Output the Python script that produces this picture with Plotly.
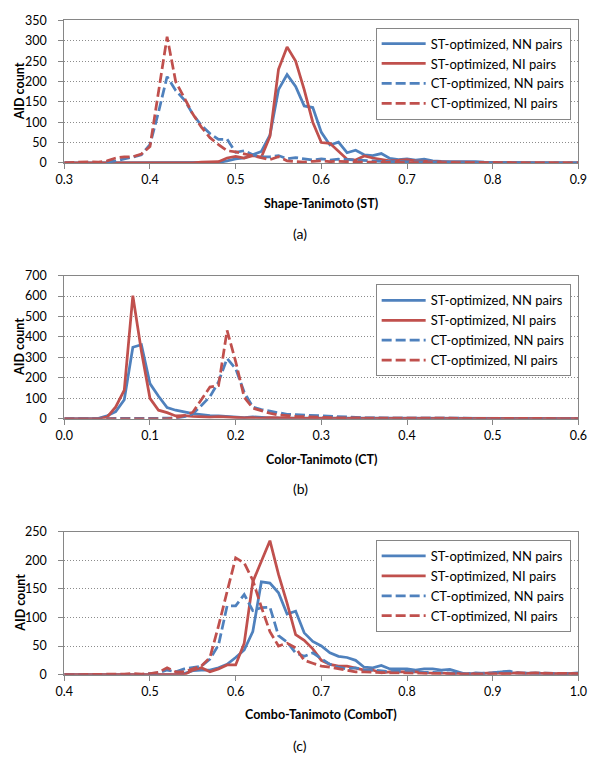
import plotly.graph_objects as go

# ---------------- data ----------------
# bin centres (step 0.01) for each panel
bins_a = [round(0.30 + 0.01 * i, 2) for i in range(61)]
bins_b = [round(0.00 + 0.01 * i, 2) for i in range(61)]
bins_c = [round(0.40 + 0.01 * i, 2) for i in range(61)]

series_names = ["ST-optimized, NN pairs", "ST-optimized, NI pairs",
                "CT-optimized, NN pairs", "CT-optimized, NI pairs"]

# Panel (a): Shape-Tanimoto
a_st_nn = [0]*18 + [1, 5, 10, 12, 20, 28, 68, 180, 217, 188, 140, 136, 75, 44, 51, 25, 31, 20, 18, 23,
                    11, 8, 10, 7, 9, 5, 4, 4, 3, 3, 3, 2, 1] + [1, 1, 0, 0, 0, 0, 0, 0, 0, 0]
a_st_ni = [0]*16 + [2, 2, 3, 12, 16, 12, 18, 14, 65, 230, 285, 250, 180, 100, 50, 48, 28, 9, 7, 17,
                    12, 8, 5, 6, 8, 5, 4, 3, 2, 2, 2, 1, 1, 1, 1] + [0]*10
a_ct_nn = [0, 0, 0, 0, 0, 2] + [5, 10, 14, 20, 45, 125, 212, 178, 155, 120, 92, 72, 58, 58, 26, 30, 20, 15,
                                15, 18, 10, 13, 10, 7, 10, 7, 9, 8, 6, 6, 4, 4, 3, 3, 3, 2, 2, 2, 2, 1] + \
          [1, 1, 1, 1, 1] + [0]*10
a_ct_ni = [0, 1, 2, 3, 2, 5, 12, 15, 15, 22, 40, 170, 310, 200, 160, 120, 88, 62, 45, 30, 27, 22, 18, 12,
           8, 15, 5, 3, 2, 4, 5, 3, 4, 3, 2, 2, 2, 1, 1, 1, 1] + [1, 1, 1, 0, 0] + [0]*15

# Panel (b): Color-Tanimoto
b_st_nn = [0, 0, 0, 0, 2, 15, 35, 93, 350, 362, 172, 110, 55, 42, 33, 25, 20, 15, 14, 11, 6, 6, 9, 6, 5,
           4, 4, 3, 3, 3, 2] + [2, 2, 2, 2, 2, 1, 1, 1, 2, 2, 1, 1, 1, 2, 3, 2, 1, 1, 1, 1,
                                1, 1, 1, 1, 1, 1, 1, 1, 1, 1]
b_st_ni = [0, 0, 0, 0, 1, 8, 58, 140, 602, 330, 100, 42, 30, 14, 15, 12, 10, 8, 10, 8, 5, 4, 5, 3, 5,
           3, 3, 2, 2, 2, 2] + [2, 1, 1, 1, 2, 1, 1, 1, 1, 1, 1, 1, 2, 1, 1, 1, 1, 1, 1, 1,
                                1, 1, 1, 1, 1, 1, 1, 1, 1, 1]
b_ct_nn = [0]*13 + [3, 10, 24, 65, 108, 180, 295, 245, 130, 57, 45, 37, 30, 22, 20, 18, 14, 12, 10, 8, 6,
                    5, 5, 4, 4, 3, 3, 3] + [3, 2, 2, 2, 3, 2, 2, 2, 1, 1, 1, 1, 1, 1, 1, 1, 1, 1, 1, 1]
b_ct_ni = [0]*13 + [5, 15, 32, 95, 155, 162, 432, 280, 105, 52, 38, 27, 18, 14, 12, 10, 8, 7, 6, 5, 4,
                    4, 3, 3, 3, 2, 2, 2] + [2, 2, 2, 1, 1, 2, 2, 1, 1, 1, 1, 1, 1, 1, 1, 1, 2, 3, 2, 1]

# Panel (c): Combo-Tanimoto
c_st_nn = [0]*14 + [2, 7, 8, 8, 12, 18, 30, 43, 75, 162, 160, 143, 106, 111, 73, 58, 50, 38, 32, 30, 25,
                    13, 12, 16, 10, 10, 10, 8, 10, 10, 8, 9, 5, 0, 3, 2, 3, 5, 3, 3, 2, 2, 3, 2, 1, 2, 3]
c_st_ni = [0]*15 + [8, 12, 5, 10, 17, 17, 55, 162, 198, 234, 175, 125, 70, 60, 45, 25, 18, 15, 15, 12,
                    8, 8, 3, 5, 5, 5, 5, 3, 3, 2, 2, 2, 1, 2, 2, 3, 2, 3, 3, 2, 3, 2, 2, 3, 2, 2]
c_ct_nn = [0]*10 + [2, 3, 8, 5, 10, 12, 15, 27, 52, 120, 120, 140, 112, 117, 118, 68, 57, 38, 32, 38, 28,
                    18, 13, 10, 12, 8, 8, 6, 5, 6, 5, 5, 4, 4, 3, 3, 2, 2, 2, 3, 3, 5, 6, 3, 3, 2, 2, 2,
                    3, 2, 2]
c_ct_ni = [0]*7 + [1, 2, 1] + [2, 4, 12, 5, 5, 10, 15, 30, 85, 145, 204, 195, 165, 118, 75, 50, 55, 47, 25,
                               20, 15, 13, 10, 8, 5, 5, 4, 4, 3, 3, 3, 2, 2, 2, 2, 2, 1, 1, 1, 2, 2, 2, 2,
                               3, 3, 2, 2, 2, 2, 3, 2]

panels = [
    dict(x=bins_a, ys=[a_st_nn, a_st_ni, a_ct_nn, a_ct_ni], xr=[0.3, 0.9], yr=[0, 350], ydt=50,
         xtitle="Shape-Tanimoto (ST)", label="(a)"),
    dict(x=bins_b, ys=[b_st_nn, b_st_ni, b_ct_nn, b_ct_ni], xr=[0.0, 0.6], yr=[0, 700], ydt=100,
         xtitle="Color-Tanimoto (CT)", label="(b)"),
    dict(x=bins_c, ys=[c_st_nn, c_st_ni, c_ct_nn, c_ct_ni], xr=[0.4, 1.0], yr=[0, 250], ydt=50,
         xtitle="Combo-Tanimoto (ComboT)", label="(c)"),
]

# ---------------- styling / layout ----------------
W, H = 600, 764
BLUE, RED = "#4F81BD", "#C0504D"
colors = [BLUE, RED, BLUE, RED]
dashes = ["solid", "solid", "10px,4px", "10px,4px"]
FONT = "Lato"
GRID = "#8c8c8c"
BORDER = "#868686"

plot_left, plot_right = 57, 587
tops = [12.7, 273, 534]
bottoms = [158, 419, 680]
legend_tops = [20, 282, 542.7]
legend_left = 378
xtitle_y = [199, 461, 721]
label_y = [230, 490, 752]


def py(v):
    return 1 - v / H


fig = go.Figure()
layout = dict(width=W, height=H, margin=dict(l=0, r=0, t=0, b=0),
              paper_bgcolor="white", plot_bgcolor="white",
              font=dict(family=FONT, size=12.5, color="black"), annotations=[])

for k, p in enumerate(panels):
    sfx = "" if k == 0 else str(k + 1)
    leg = "legend" + sfx
    for j in range(4):
        fig.add_trace(go.Scatter(
            x=p["x"], y=p["ys"][j], mode="lines", name=series_names[j],
            line=dict(color=colors[j], width=2.75, dash=dashes[j]),
            xaxis="x" + sfx, yaxis="y" + sfx, legend=leg, showlegend=True))
    layout["xaxis" + sfx] = dict(
        domain=[plot_left / W, plot_right / W], anchor="y" + sfx,
        range=p["xr"], dtick=0.1, tick0=p["xr"][0], tickformat=".1f",
        showgrid=False, zeroline=False, showline=True, linecolor=BORDER, linewidth=1,
        mirror=True, ticks="outside", ticklen=5, tickcolor=BORDER,
        tickfont=dict(family=FONT, size=12.5, color="black"))
    layout["yaxis" + sfx] = dict(
        domain=[py(bottoms[k]), py(tops[k])], anchor="x" + sfx,
        range=p["yr"], dtick=p["ydt"], showgrid=True, gridcolor=GRID, gridwidth=1,
        griddash="1px,2px", zeroline=False, showline=True, linecolor=BORDER,
        linewidth=1, mirror=True, ticks="outside", ticklen=5, tickcolor=BORDER,
        ticklabelstandoff=9,
        tickfont=dict(family=FONT, size=12.5, color="black"))
    layout[leg] = dict(
        x=legend_left / W, y=py(legend_tops[k]), xanchor="left", yanchor="top",
        bgcolor="white", bordercolor=BORDER, borderwidth=1, itemwidth=44,
        font=dict(family=FONT, size=13, color="black"), tracegroupgap=0)
    layout["annotations"] += [
        dict(text="<b>" + p["xtitle"] + "</b>", x=(plot_left + plot_right) / 2 / W,
             y=py(xtitle_y[k]), xref="paper", yref="paper", showarrow=False,
             xanchor="center", yanchor="middle", font=dict(family=FONT, size=12.5)),
        dict(text="<b>AID count</b>", x=11 / W, y=py((tops[k] + bottoms[k]) / 2),
             xref="paper", yref="paper", showarrow=False, textangle=-90,
             xanchor="center", yanchor="middle", font=dict(family=FONT, size=12.5)),
        dict(text=p["label"], x=300 / W, y=py(label_y[k]), xref="paper", yref="paper",
             showarrow=False, xanchor="center", yanchor="middle",
             font=dict(family=FONT, size=14)),
    ]

fig.update_layout(**layout)
fig.write_html("out.html", config={"displayModeBar": False},
               post_script="document.body.style.margin='0px';"
                           "document.body.style.overflow='hidden';")
